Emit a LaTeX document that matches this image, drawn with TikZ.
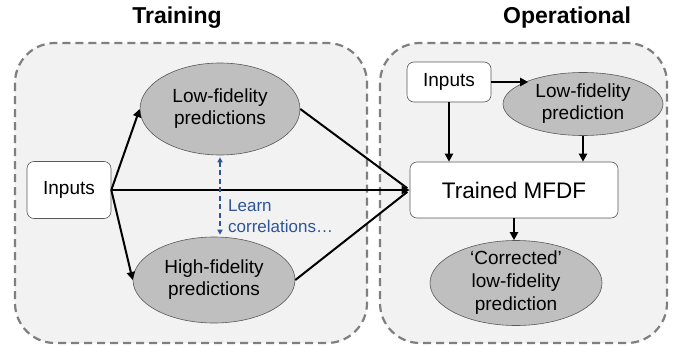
\documentclass[tikz,border=0pt]{standalone}
\usepackage{fontspec}
\setmainfont{Liberation Sans}
\usetikzlibrary{arrows.meta,shapes.geometric}
\definecolor{panelfill}{HTML}{F2F2F2}
\definecolor{panelline}{HTML}{7F7F7F}
\definecolor{ellfill}{HTML}{BFBFBF}
\definecolor{ellline}{HTML}{595959}
\definecolor{corrblue}{HTML}{2F5597}
\begin{document}
\begin{tikzpicture}[x=1pt,y=-1pt,
 panel/.style={draw=panelline, fill=panelfill, line width=2.2pt, dash pattern=on 8pt off 5pt, rounded corners=40pt},
 ell/.style={ellipse, draw=ellline, fill=ellfill, line width=0.6pt, inner sep=0pt},
 lbl/.style={align=center, font=\fontsize{19}{22}\selectfont, inner sep=0pt},
 box/.style={rectangle, rounded corners=7pt, draw=ellline, fill=white, line width=0.6pt, align=center, font=\fontsize{19}{22}\selectfont},
 arr/.style={line width=2pt, -{Triangle[length=8pt,width=8pt]}},
 plainline/.style={line width=2pt},
 bluearr/.style={draw=corrblue, line width=1.3pt, dash pattern=on 5pt off 3.5pt, {Triangle[length=5pt,width=5pt]}-{Triangle[length=5pt,width=5pt]}, shorten <=2pt, shorten >=2pt},
 title/.style={font=\fontsize{23}{26}\bfseries\selectfont}
]
\useasboundingbox (0,0) rectangle (676,345);
\fill[white] (0,0) rectangle (676,345);
\draw[panel] (15,43) rectangle (367,343);
\draw[panel] (380,43) rectangle (667,343);

\node[title] (t1) at (177,18) {Training};
\node[title] (t2) at (567,18) {Operational};

% Training
\node[box, minimum width=84pt, minimum height=57pt] (in1) at (69,190) {Inputs};
\node[ell, minimum width=160pt, minimum height=92pt, label={[lbl]center:{Low-fidelity\\predictions}}] (lf) at (220,109) {};
\node[ell, minimum width=162pt, minimum height=86pt, label={[lbl]center:{High-fidelity\\predictions}}] (hf) at (214,280) {};

% Operational
\node[box, minimum width=208pt, minimum height=56pt, font=\fontsize{22.5}{26}\selectfont] (mfdf) at (514,190) {Trained MFDF};
\node[box, minimum width=84pt, minimum height=40pt] (in2) at (449,82) {Inputs};
\node[ell, minimum width=160pt, minimum height=63pt, label={[lbl]center:{Low-fidelity\\prediction}}] (lf2) at (583,104) {};
\node[ell, minimum width=172pt, minimum height=85pt, label={[lbl, font=\fontsize{19}{23}\selectfont]center:{‘Corrected’\\low-fidelity\\prediction}}] (corr) at (516,283) {};

% connectors
\draw[arr] (in1.east) -- (lf.west);
\draw[arr] (in1.east) -- (hf.west);
\draw[plainline, shorten >=3pt] (lf.east) -- (mfdf.west);
\draw[plainline, shorten >=3pt] (hf.east) -- (mfdf.west);
\draw[arr] (in1.east) -- (mfdf.west);
\draw[bluearr] (lf.south) -- (lf.south |- hf.north);
\node[anchor=west, align=left, text=corrblue, font=\fontsize{17}{21}\selectfont, inner sep=0pt] (learn) at (228,216) {Learn\\correlations…};

\draw[arr] (in2.east) -- (in2.east -| lf2.157);
\draw[arr] (in2.south) -- (in2.south |- mfdf.north);
\draw[arr] (lf2.south) -- (lf2.south |- mfdf.north);
\draw[arr] (mfdf.south) -- (mfdf.south |- corr.north);
\end{tikzpicture}
\end{document}
